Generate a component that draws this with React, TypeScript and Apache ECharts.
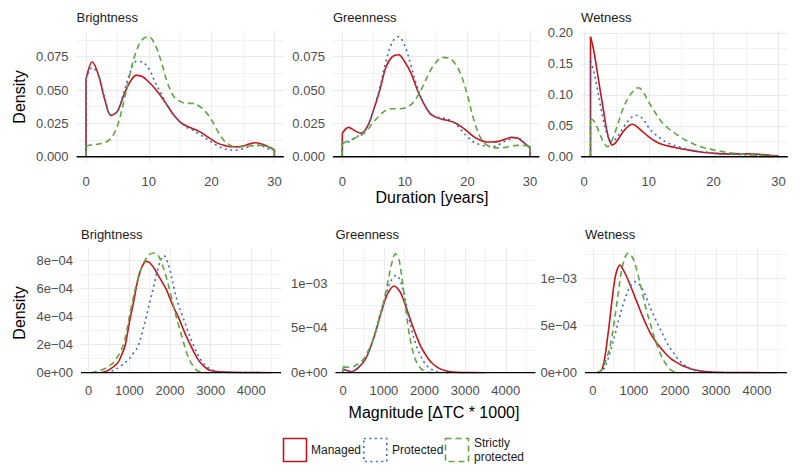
import React, { useEffect, useRef } from 'react';
import * as echarts from 'echarts';

const FONT = '"Liberation Sans", Arial, Helvetica, sans-serif';

// ---- groups / colours ----
const groupNames = ['Managed', 'Protected', 'Strictly protected'];
const groupColors = ['#C4161C', '#3D6CC0', '#5FA641'];
const groupDash: any[] = ['solid', [2, 3.5], [6, 4]];

// ---- tick labels ----
const durationTicks = [0, 10, 20, 30];
const durationMinor = [5, 15, 25];
const magnitudeTicks = [0, 1000, 2000, 3000, 4000];
const magnitudeMinor = [500, 1500, 2500, 3500, 4500];
const durDensityTicks = [0, 0.025, 0.05, 0.075];
const durDensityMinor = [0.0125, 0.0375, 0.0625, 0.0875];
const wetDensityTicks = [0, 0.05, 0.1, 0.15, 0.2];
const wetDensityMinor = [0.025, 0.075, 0.125, 0.175];
const brightMagTicks = [0, 2e-4, 4e-4, 6e-4, 8e-4];
const brightMagMinor = [1e-4, 3e-4, 5e-4, 7e-4];
const otherMagTicks = [0, 5e-4, 1e-3];
const otherMagMinor = [2.5e-4, 7.5e-4, 1.25e-3];

// ---- Duration [years], density ----
const durationYears = [0, 1, 2, 3, 4, 5, 6, 7, 8, 9, 10, 11, 12, 13, 14, 15, 16, 17, 18, 19, 20, 21, 22, 23, 24, 25, 26, 27, 28, 29, 30];

const durBrightManaged = [0.058, 0.071, 0.061, 0.0425, 0.031, 0.034, 0.046, 0.056, 0.061, 0.060, 0.056, 0.051, 0.045, 0.038, 0.031, 0.026, 0.023, 0.021, 0.019, 0.016, 0.013, 0.010, 0.0085, 0.0075, 0.0075, 0.008, 0.0095, 0.0105, 0.0095, 0.0075, 0.005];
const durBrightProtected = [0.058, 0.067, 0.061, 0.044, 0.031, 0.034, 0.048, 0.063, 0.0715, 0.071, 0.066, 0.056, 0.047, 0.038, 0.031, 0.026, 0.022, 0.020, 0.017, 0.014, 0.011, 0.008, 0.006, 0.005, 0.005, 0.006, 0.0075, 0.0085, 0.008, 0.006, 0.005];
const durBrightStrict = [0.008, 0.009, 0.0095, 0.0105, 0.014, 0.023, 0.041, 0.062, 0.079, 0.088, 0.090, 0.084, 0.071, 0.055, 0.045, 0.0415, 0.040, 0.040, 0.038, 0.034, 0.0275, 0.019, 0.012, 0.0085, 0.007, 0.0075, 0.008, 0.0085, 0.0085, 0.0075, 0.006];

const durGreenManaged = [0.0175, 0.022, 0.0195, 0.0175, 0.0225, 0.035, 0.050, 0.0675, 0.075, 0.0765, 0.071, 0.0625, 0.050, 0.040, 0.0325, 0.0295, 0.028, 0.027, 0.0255, 0.0225, 0.019, 0.015, 0.0125, 0.011, 0.011, 0.0115, 0.013, 0.0145, 0.014, 0.0105, 0.007];
const durGreenProtected = [0.010, 0.011, 0.014, 0.017, 0.022, 0.035, 0.052, 0.072, 0.086, 0.090, 0.083, 0.068, 0.052, 0.040, 0.033, 0.030, 0.029, 0.028, 0.025, 0.020, 0.015, 0.011, 0.009, 0.008, 0.0075, 0.009, 0.0115, 0.0135, 0.014, 0.011, 0.006];
const durGreenStrict = [0.010, 0.012, 0.014, 0.016, 0.020, 0.026, 0.031, 0.035, 0.036, 0.036, 0.0365, 0.039, 0.045, 0.054, 0.064, 0.071, 0.0745, 0.074, 0.070, 0.061, 0.046, 0.028, 0.015, 0.009, 0.007, 0.0065, 0.007, 0.008, 0.0085, 0.0085, 0.008];

// Wetness duration: [years, density]
const durWetManaged = [[1, 0.194], [1.5, 0.172], [2, 0.14], [2.5, 0.107], [3, 0.075], [3.5, 0.043], [4, 0.024], [4.4, 0.019], [5, 0.024], [6, 0.040], [7, 0.0505], [7.5, 0.0525], [8, 0.050], [9, 0.041], [10, 0.032], [11, 0.025], [12, 0.020], [14, 0.015], [16, 0.011], [18, 0.0075], [20, 0.0055], [22, 0.0045], [25, 0.0045], [27, 0.004], [28, 0.003], [30, 0.001]];
const durWetProtected = [[1, 0.155], [1.5, 0.138], [2, 0.113], [2.5, 0.085], [3, 0.058], [3.5, 0.038], [4, 0.026], [4.3, 0.024], [5, 0.030], [6, 0.046], [7, 0.060], [8, 0.067], [9, 0.062], [10, 0.047], [11, 0.036], [12, 0.028], [13, 0.022], [14, 0.018], [16, 0.012], [18, 0.0085], [20, 0.006], [22, 0.004], [25, 0.003], [28, 0.002], [30, 0.0005]];
const durWetStrict = [[1, 0.062], [1.5, 0.058], [2, 0.048], [2.5, 0.035], [3, 0.024], [3.6, 0.016], [4, 0.020], [4.5, 0.031], [5, 0.046], [6, 0.077], [7, 0.098], [8, 0.110], [8.4, 0.1115], [9, 0.107], [10, 0.088], [11, 0.071], [12, 0.056], [13, 0.046], [14, 0.038], [15, 0.031], [16, 0.025], [17, 0.020], [18, 0.016], [20, 0.011], [22, 0.007], [24, 0.005], [26, 0.003], [28, 0.002], [30, 0.001]];

// ---- Magnitude [dTC * 1000], density in units of 1e-4 ----
const magBrightManaged = [[300, 0], [500, 0.2], [700, 0.65], [800, 1.2], [900, 2.0], [1000, 3.6], [1100, 5.0], [1200, 6.5], [1300, 7.5], [1420, 7.95], [1500, 7.85], [1600, 7.5], [1700, 7.0], [1800, 6.5], [1900, 6.0], [2000, 5.3], [2100, 4.6], [2200, 4.0], [2300, 3.3], [2400, 2.6], [2500, 2.0], [2600, 1.4], [2700, 0.9], [2800, 0.55], [2900, 0.3], [3000, 0.15], [3200, 0.06], [3500, 0.02], [4000, 0.005], [4500, 0]];
const magBrightProtected = [[430, 0], [600, 0.15], [800, 0.5], [1000, 1.0], [1100, 1.4], [1200, 1.8], [1300, 2.7], [1400, 3.8], [1500, 5.0], [1600, 6.2], [1700, 7.4], [1800, 8.25], [1850, 8.35], [1900, 8.2], [2000, 7.3], [2100, 6.0], [2200, 4.9], [2300, 4.1], [2400, 3.3], [2500, 2.5], [2600, 1.8], [2700, 1.2], [2800, 0.75], [2900, 0.45], [3000, 0.25], [3200, 0.08], [3500, 0.02], [4000, 0.005], [4500, 0]];
const magBrightStrict = [[50, 0], [200, 0.1], [400, 0.3], [600, 0.7], [700, 1.1], [800, 1.6], [900, 2.5], [1000, 4.0], [1100, 5.4], [1200, 6.6], [1300, 7.5], [1400, 8.1], [1500, 8.45], [1600, 8.55], [1700, 8.4], [1800, 7.8], [1900, 6.9], [2000, 5.8], [2100, 4.6], [2200, 3.5], [2300, 2.5], [2400, 1.5], [2500, 0.8], [2600, 0.35], [2700, 0.1], [2800, 0.03], [3000, 0]];

const magGreenManaged = [[0, 0.4], [100, 0.25], [200, 0.1], [300, 0.3], [400, 0.7], [500, 1.2], [600, 2.0], [700, 3.2], [800, 4.6], [900, 6.2], [1000, 7.7], [1100, 8.9], [1250, 9.67], [1400, 9.0], [1500, 7.9], [1600, 6.6], [1700, 5.3], [1800, 4.1], [1900, 3.0], [2000, 2.2], [2100, 1.5], [2200, 1.0], [2300, 0.65], [2400, 0.4], [2500, 0.25], [2600, 0.13], [2800, 0.04], [3000, 0.01], [3500, 0]];
const magGreenProtected = [[0, 0.35], [100, 0.2], [200, 0.1], [300, 0.3], [400, 0.7], [500, 1.2], [600, 2.0], [700, 3.2], [800, 4.7], [900, 6.4], [1000, 8.0], [1100, 9.4], [1200, 10.4], [1300, 10.85], [1400, 10.3], [1500, 8.8], [1600, 6.4], [1700, 4.5], [1800, 3.0], [1900, 1.9], [2000, 1.1], [2100, 0.6], [2200, 0.3], [2300, 0.1], [2400, 0.03], [2600, 0]];
const magGreenStrict = [[0, 0.65], [100, 0.6], [200, 0.6], [300, 0.8], [400, 1.1], [500, 1.5], [600, 2.3], [700, 3.3], [800, 4.6], [900, 6.2], [1000, 8.0], [1100, 10.2], [1200, 12.3], [1280, 13.25], [1350, 12.9], [1400, 12.0], [1500, 8.6], [1600, 5.0], [1700, 2.6], [1800, 1.2], [1900, 0.5], [2000, 0.2], [2100, 0.05], [2200, 0]];

const magWetManaged = [[100, 0], [200, 0.2], [250, 0.7], [300, 1.8], [350, 3.4], [400, 5.1], [450, 7.0], [500, 8.8], [550, 10.2], [600, 11.0], [660, 11.4], [700, 11.2], [800, 10.4], [900, 9.4], [1000, 8.3], [1100, 7.2], [1200, 6.1], [1300, 5.1], [1400, 4.2], [1500, 3.5], [1600, 2.9], [1700, 2.4], [1800, 1.9], [1900, 1.5], [2000, 1.2], [2200, 0.7], [2400, 0.4], [2600, 0.2], [2800, 0.1], [3000, 0.05], [3500, 0.01], [4500, 0]];
const magWetProtected = [[150, 0], [250, 0.3], [350, 1.2], [450, 2.6], [550, 4.2], [650, 5.9], [750, 7.4], [850, 8.6], [950, 9.4], [1050, 9.65], [1100, 9.5], [1200, 8.9], [1300, 8.0], [1400, 6.9], [1500, 5.9], [1600, 5.0], [1700, 4.1], [1800, 3.2], [1900, 2.5], [2000, 1.9], [2100, 1.3], [2200, 0.9], [2300, 0.6], [2400, 0.35], [2500, 0.2], [2700, 0.05], [3000, 0.01], [3500, 0]];
const magWetStrict = [[120, 0], [200, 0.2], [300, 1.1], [400, 2.4], [450, 3.5], [500, 4.7], [600, 7.8], [700, 10.8], [800, 12.4], [860, 12.65], [900, 12.6], [1000, 11.9], [1100, 10.4], [1200, 8.6], [1300, 6.7], [1400, 5.2], [1500, 3.7], [1600, 2.5], [1700, 1.5], [1800, 0.8], [1900, 0.3], [2000, 0.05], [2100, 0]];

const zip = (xs: number[], ys: number[]) => xs.map((x, i) => [x, ys[i]]);
const scaleE4 = (pts: number[][]) => pts.map(([x, y]) => [x, y * 1e-4]);

const fmt3 = (v: number) => v.toFixed(3);
const fmt2 = (v: number) => v.toFixed(2);
const sci = (v: number) => {
  if (v === 0) return '0e+00';
  const e = Math.floor(Math.log10(Math.abs(v)) + 1e-9);
  const m = Math.round(v / Math.pow(10, e));
  const sign = e < 0 ? '\u2212' : '+';
  return `${m}e${sign}${String(Math.abs(e)).padStart(2, '0')}`;
};

const panels = [
  { title: 'Brightness', left: 76.6, top: 30.7, width: 207.2, height: 132, xMin: -1.5, xMax: 31.5, yMin: -0.0045, yMax: 0.0945,
    xTicks: durationTicks, xMinor: durationMinor, yTicks: durDensityTicks, yMinor: durDensityMinor, yFmt: fmt3, xMargin: 12,
    curves: [zip(durationYears, durBrightManaged), zip(durationYears, durBrightProtected), zip(durationYears, durBrightStrict)] },
  { title: 'Greenness', left: 332.9, top: 30.7, width: 206.5, height: 132, xMin: -1.5, xMax: 31.5, yMin: -0.0045, yMax: 0.0945,
    xTicks: durationTicks, xMinor: durationMinor, yTicks: durDensityTicks, yMinor: durDensityMinor, yFmt: fmt3, xMargin: 12,
    curves: [zip(durationYears, durGreenManaged), zip(durationYears, durGreenProtected), zip(durationYears, durGreenStrict)] },
  { title: 'Wetness', left: 581.1, top: 30.7, width: 206.7, height: 132, xMin: -0.45, xMax: 31.45, yMin: -0.0097, yMax: 0.2037,
    xTicks: durationTicks, xMinor: durationMinor, yTicks: wetDensityTicks, yMinor: wetDensityMinor, yFmt: fmt2, xMargin: 12,
    curves: [durWetManaged, durWetProtected, durWetStrict] },
  { title: 'Brightness', left: 81, top: 247.5, width: 200, height: 125.2, xMin: -190, xMax: 4730, yMin: 0, yMax: 8.94e-4,
    xTicks: magnitudeTicks, xMinor: magnitudeMinor, yTicks: brightMagTicks, yMinor: brightMagMinor, yFmt: sci, xMargin: 11,
    curves: [scaleE4(magBrightManaged), scaleE4(magBrightProtected), scaleE4(magBrightStrict)] },
  { title: 'Greenness', left: 335.5, top: 247.5, width: 200, height: 125.2, xMin: -190, xMax: 4730, yMin: 0, yMax: 1.396e-3,
    xTicks: magnitudeTicks, xMinor: magnitudeMinor, yTicks: otherMagTicks, yMinor: otherMagMinor, yFmt: sci, xMargin: 11,
    curves: [scaleE4(magGreenManaged), scaleE4(magGreenProtected), scaleE4(magGreenStrict)] },
  { title: 'Wetness', left: 585, top: 247.5, width: 202, height: 125.2, xMin: -190, xMax: 4730, yMin: 0, yMax: 1.326e-3,
    xTicks: magnitudeTicks, xMinor: magnitudeMinor, yTicks: otherMagTicks, yMinor: otherMagMinor, yFmt: sci, xMargin: 11,
    curves: [scaleE4(magWetManaged), scaleE4(magWetProtected), scaleE4(magWetStrict)] },
];

function buildOption() {
  const grid: any[] = [];
  const xAxis: any[] = [];
  const yAxis: any[] = [];
  const series: any[] = [];
  const graphic: any[] = [];
  const majorLine = { show: true, lineStyle: { color: '#EBEBEB', width: 1.1 } };
  const minorLine = { show: true, lineStyle: { color: '#EDEDED', width: 0.7 } };

  panels.forEach((p, i) => {
    grid.push({ left: p.left, top: p.top, width: p.width, height: p.height, containLabel: false, outerBoundsMode: 'none' });
    xAxis.push({
      type: 'value', gridIndex: i, min: p.xMin, max: p.xMax, position: 'bottom',
      axisLine: { show: false }, axisTick: { show: false, customValues: p.xTicks },
      axisLabel: { customValues: p.xTicks, color: '#4D4D4D', fontSize: 13, fontFamily: FONT, margin: p.xMargin,
        formatter: (v: number) => String(v) },
      splitLine: majorLine,
    });
    xAxis.push({
      type: 'value', gridIndex: i, min: p.xMin, max: p.xMax, position: 'top',
      axisLine: { show: false }, axisTick: { show: false, customValues: p.xMinor },
      axisLabel: { show: false, customValues: p.xMinor },
      splitLine: minorLine,
    });
    yAxis.push({
      type: 'value', gridIndex: i, min: p.yMin, max: p.yMax, position: 'left',
      axisLine: { show: false }, axisTick: { show: false, customValues: p.yTicks },
      axisLabel: { customValues: p.yTicks, color: '#4D4D4D', fontSize: 13, fontFamily: FONT, margin: 8,
        formatter: (v: number) => p.yFmt(v) },
      splitLine: majorLine,
    });
    yAxis.push({
      type: 'value', gridIndex: i, min: p.yMin, max: p.yMax, position: 'right',
      axisLine: { show: false }, axisTick: { show: false, customValues: p.yMinor },
      axisLabel: { show: false, customValues: p.yMinor },
      splitLine: minorLine,
    });

    p.curves.forEach((pts, j) => {
      const ls = { color: groupColors[j], width: 1.6, type: groupDash[j] };
      const common = { type: 'line', xAxisIndex: 2 * i, yAxisIndex: 2 * i, showSymbol: false, symbol: 'none', silent: true, z: 2 + j };
      series.push({ ...common, name: groupNames[j], data: pts, smooth: 0.35, lineStyle: ls });
      const first = pts[0];
      const last = pts[pts.length - 1];
      series.push({ ...common, data: [[first[0], 0], [first[0], first[1]]], lineStyle: ls });
      series.push({ ...common, data: [[last[0], last[1]], [last[0], 0]], lineStyle: ls });
    });
    series.push({
      type: 'line', xAxisIndex: 2 * i, yAxisIndex: 2 * i, showSymbol: false, symbol: 'none', silent: true, z: 10,
      data: [[p.xMin, 0], [p.xMax, 0]], lineStyle: { color: '#000000', width: 1.4 },
    });

    graphic.push({
      type: 'text', x: p.left, y: p.top - 13, silent: true,
      style: { text: p.title, fill: '#1A1A1A', font: `13px ${FONT}`, align: 'left', verticalAlign: 'middle' },
    });
  });

  // axis titles
  graphic.push({ type: 'text', x: 432, y: 197, silent: true,
    style: { text: 'Duration [years]', fill: '#000', font: `16px ${FONT}`, align: 'center', verticalAlign: 'middle' } });
  graphic.push({ type: 'text', x: 434, y: 412, silent: true,
    style: { text: 'Magnitude [\u0394TC * 1000]', fill: '#000', font: `16px ${FONT}`, align: 'center', verticalAlign: 'middle' } });
  graphic.push({ type: 'text', x: 19, y: 97, rotation: Math.PI / 2, silent: true,
    style: { text: 'Density', fill: '#000', font: `16px ${FONT}`, align: 'center', verticalAlign: 'middle' } });
  graphic.push({ type: 'text', x: 19, y: 313, rotation: Math.PI / 2, silent: true,
    style: { text: 'Density', fill: '#000', font: `16px ${FONT}`, align: 'center', verticalAlign: 'middle' } });

  // legend
  const keyX = [283.5, 363.8, 445.5];
  const textX = [311, 392, 474];
  groupNames.forEach((name, j) => {
    graphic.push({ type: 'rect', silent: true, shape: { x: keyX[j], y: 438.5, width: 23, height: 23 },
      style: { fill: 'none', stroke: groupColors[j], lineWidth: 1.6, lineDash: j === 0 ? null : groupDash[j] } });
    const label = j === 2 ? 'Strictly\nprotected' : name;
    graphic.push({ type: 'text', x: textX[j], y: 450, silent: true,
      style: { text: label, fill: '#1A1A1A', font: `12px ${FONT}`, align: 'left', verticalAlign: 'middle', lineHeight: 13.5 } });
  });

  return {
    animation: false,
    backgroundColor: '#FFFFFF',
    textStyle: { fontFamily: FONT },
    grid, xAxis, yAxis, series, graphic,
  };
}

export default function App() {
  const ref = useRef<HTMLDivElement>(null);
  useEffect(() => {
    document.body.style.margin = '0';
    const chart = echarts.init(ref.current!, undefined, { renderer: 'svg' });
    chart.setOption(buildOption() as any);
    return () => chart.dispose();
  }, []);
  return <div ref={ref} style={{ width: 800, height: 475 }} />;
}
